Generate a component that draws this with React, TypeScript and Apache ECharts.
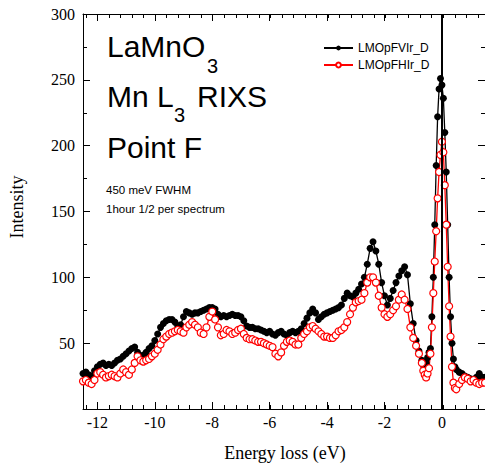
import { useEffect, useRef } from "react";
import * as echarts from "echarts";

// Energy loss grid (eV)
const energies = [
  -12.5, -12.4, -12.3, -12.2, -12.1, -12.0, -11.9, -11.8, -11.7, -11.6,
  -11.5, -11.4, -11.3, -11.2, -11.1, -11.0, -10.9, -10.8, -10.7, -10.6,
  -10.5, -10.4, -10.3, -10.2, -10.1, -10.0, -9.9, -9.8, -9.7, -9.6,
  -9.5, -9.4, -9.3, -9.2, -9.1, -9.0, -8.9, -8.8, -8.7, -8.6,
  -8.5, -8.4, -8.3, -8.2, -8.1, -8.0, -7.9, -7.8, -7.7, -7.6,
  -7.5, -7.4, -7.3, -7.2, -7.1, -7.0, -6.9, -6.8, -6.7, -6.6,
  -6.5, -6.4, -6.3, -6.2, -6.1, -6.0, -5.9, -5.8, -5.7, -5.6,
  -5.5, -5.4, -5.3, -5.2, -5.1, -5.0, -4.9, -4.8, -4.7, -4.6,
  -4.5, -4.4, -4.3, -4.2, -4.1, -4.0, -3.9, -3.8, -3.7, -3.6,
  -3.5, -3.4, -3.3, -3.2, -3.1, -3.0, -2.9, -2.8, -2.7, -2.6,
  -2.5, -2.4, -2.3, -2.2, -2.1, -2.0, -1.9, -1.8, -1.7, -1.6,
  -1.5, -1.4, -1.3, -1.2, -1.1, -1.0, -0.9, -0.8, -0.7,
  -0.65, -0.6, -0.55, -0.5, -0.45, -0.4, -0.35, -0.3, -0.25, -0.2, -0.15, -0.1,
  -0.05, 0, 0.05, 0.1, 0.15, 0.2, 0.25, 0.3, 0.35, 0.4, 0.45, 0.5,
  0.6, 0.7, 0.8, 0.9, 1.0, 1.1, 1.2, 1.3, 1.4, 1.5,
];

const seriesNames = ["LMOpFVIr_D", "LMOpFHIr_D"];

// LMOpFVIr_D (black, filled circles)
const intensityV = [
  27, 28, 26, 25, 29, 32, 34, 35, 33, 34,
  33, 35, 37, 38, 40, 42, 44, 46, 47, 43,
  40, 41, 43, 46, 48, 52, 57, 62, 65, 67,
  68, 68, 66, 63, 64, 70, 74, 73, 72, 73,
  73, 74, 75, 76, 77, 77, 76, 72, 70, 71,
  70, 71, 72, 71, 71, 70, 67, 63, 62, 62,
  61, 61, 60, 59, 58, 59, 57, 56, 58, 59,
  57, 56, 58, 59, 58, 59, 61, 65, 69, 73,
  76, 73, 68, 70, 72, 73, 74, 75, 76, 77,
  79, 84, 88, 86, 85, 88, 91, 95, 100, 110,
  122, 127, 120, 110, 96, 86, 79, 84, 90, 96,
  101, 105, 108, 102, 80, 65, 52, 44, 37,
  33, 32, 35, 39, 43, 46, 70, 100, 140, 185, 222, 243,
  251, 246, 236, 210, 180, 140, 100, 70, 50, 38, 32, 30,
  28, 27, 25, 24, 23, 22, 24, 27, 24, 24,
];

// LMOpFHIr_D (red, open circles)
const intensityH = [
  21, 22, 20, 19, 22, 27, 28, 26, 24, 25,
  26, 25, 24, 27, 30, 28, 26, 30, 35, 40,
  37, 36, 37, 38, 40, 42, 45, 49, 53, 55,
  57, 58, 59, 60, 59, 58, 62, 64, 66, 64,
  62, 58, 57, 62, 70, 74, 68, 62, 56, 57,
  60, 59, 57, 58, 60, 61, 57, 54, 53, 53,
  52, 51, 51, 50, 49, 48, 47, 42, 40, 43,
  48, 51, 52, 51, 49, 49, 54, 57, 59, 62,
  63, 61, 59, 57, 55, 55, 54, 54, 56, 59,
  60, 62, 66, 72, 77, 81, 82, 83, 88, 96,
  100, 100, 96, 86, 77, 72, 70, 72, 75, 78,
  83, 87, 83, 76, 62, 54, 48, 42, 35,
  29, 26, 24, 27, 31, 42, 62, 88, 112, 135, 160, 180,
  193, 203, 195, 170, 140, 108, 78, 55, 32, 20, 16, 15,
  19, 22, 24, 23, 21, 22, 20, 19, 20, 20,
];

const X_MIN = -12.5;
const X_MAX = 1.5;
const Y_MIN = 0;
const Y_MAX = 300;
const Y_STEP = 50;
const MINOR_MIN = -12.4;
const MINOR_MAX = 1.2;
const MINOR_STEP = 0.4;

export default function App() {
  const ref = useRef<HTMLDivElement>(null);
  useEffect(() => {
    const chart = echarts.init(ref.current!, null, { renderer: "svg" });
    const sans = "'Liberation Sans', Arial, sans-serif";
    const serif = "'Liberation Serif', 'Times New Roman', serif";
    const W = 485;
    const left = 83;
    const right = -1.5;
    const top = 14;
    const bottom = 57;
    const pxPerEV = (W - left - right) / (X_MAX - X_MIN);
    const left2 = left + (MINOR_MIN - X_MIN) * pxPerEV;
    const right2 = right + (X_MAX - MINOR_MAX) * pxPerEV;

    const black = "#000";
    const red = "#ff0000";

    const majorX = (pos: "top" | "bottom", labels: boolean) => ({
      type: "value",
      gridIndex: 0,
      position: pos,
      min: X_MIN,
      max: X_MAX,
      splitNumber: 7,
      axisLine: { show: true, onZero: false, lineStyle: { color: black, width: 1 } },
      axisTick: { show: true, inside: true, length: 7, lineStyle: { color: black } },
      axisLabel: {
        show: labels,
        showMinLabel: false,
        showMaxLabel: false,
        margin: 5,
        color: black,
        fontSize: 16,
        fontFamily: serif,
      },
      splitLine: { show: false },
    });
    const minorX = (pos: "top" | "bottom") => ({
      type: "value",
      gridIndex: 1,
      position: pos,
      min: MINOR_MIN,
      max: MINOR_MAX,
      interval: MINOR_STEP,
      axisLine: { show: false, onZero: false },
      axisTick: { show: true, inside: true, length: 4, lineStyle: { color: black } },
      axisLabel: { show: false },
      splitLine: { show: false },
    });
    const yAx = (pos: "left" | "right", labels: boolean) => ({
      type: "value",
      gridIndex: 0,
      position: pos,
      min: Y_MIN,
      max: Y_MAX,
      interval: Y_STEP,
      axisLine: { show: true, onZero: false, lineStyle: { color: black, width: 1 } },
      axisTick: { show: true, inside: true, length: 7, lineStyle: { color: black } },
      minorTick: { show: true, splitNumber: 2, length: 4, lineStyle: { color: black } },
      axisLabel: {
        show: labels,
        showMinLabel: false,
        margin: 8,
        color: black,
        fontSize: 16,
        fontFamily: serif,
      },
      splitLine: { show: false },
    });

    const option: any = {
      animation: false,
      backgroundColor: "#fff",
      grid: [
        { left, right, top, bottom, containLabel: false },
        { left: left2, right: right2, top, bottom, containLabel: false },
      ],
      xAxis: [majorX("bottom", true), majorX("top", false), minorX("bottom"), minorX("top")],
      yAxis: [
        yAx("left", true),
        yAx("right", false),
        { type: "value", gridIndex: 1, min: Y_MIN, max: Y_MAX, show: false },
      ],
      legend: {
        orient: "vertical",
        left: 318,
        top: 37,
        padding: 5,
        itemWidth: 29,
        itemHeight: 6,
        itemGap: 5,
        textStyle: { fontSize: 12, fontFamily: sans, color: black },
        data: seriesNames,
      },
      series: [
        {
          name: seriesNames[0],
          type: "line",
          xAxisIndex: 0,
          yAxisIndex: 0,
          data: energies.map((e, i) => [e, intensityV[i]]),
          symbol: "circle",
          symbolSize: 7,
          showAllSymbol: true,
          itemStyle: { color: black },
          lineStyle: { color: black, width: 1.3 },
          markLine: {
            silent: true,
            symbol: ["none", "none"],
            label: { show: false },
            lineStyle: { color: black, width: 2, type: "solid" },
            data: [{ xAxis: 0 }],
          },
        },
        {
          name: seriesNames[1],
          type: "line",
          xAxisIndex: 0,
          yAxisIndex: 0,
          data: energies.map((e, i) => [e, intensityH[i]]),
          symbol: "circle",
          symbolSize: 7,
          showAllSymbol: true,
          itemStyle: { color: "#fff", borderColor: red, borderWidth: 1.2 },
          lineStyle: { color: red, width: 1.3 },
        },
      ],
      graphic: [
        { type: "text", x: 107, y: 46, style: { text: "LaMnO", fontSize: 30, fontFamily: sans, fill: black, verticalAlign: "middle" } },
        { type: "text", x: 207, y: 66, style: { text: "3", fontSize: 20, fontFamily: sans, fill: black, verticalAlign: "middle" } },
        { type: "text", x: 107, y: 96, style: { text: "Mn L", fontSize: 30, fontFamily: sans, fill: black, verticalAlign: "middle" } },
        { type: "text", x: 174, y: 115, style: { text: "3", fontSize: 20, fontFamily: sans, fill: black, verticalAlign: "middle" } },
        { type: "text", x: 197, y: 96, style: { text: "RIXS", fontSize: 30, fontFamily: sans, fill: black, verticalAlign: "middle" } },
        { type: "text", x: 107, y: 147, style: { text: "Point F", fontSize: 30, fontFamily: sans, fill: black, verticalAlign: "middle" } },
        { type: "text", x: 106, y: 190, style: { text: "450 meV FWHM", fontSize: 11.5, fontFamily: sans, fill: black, verticalAlign: "middle" } },
        { type: "text", x: 106, y: 209, style: { text: "1hour 1/2 per spectrum", fontSize: 11.5, fontFamily: sans, fill: black, verticalAlign: "middle" } },
        { type: "text", x: 17, y: 207, rotation: Math.PI / 2, style: { text: "Intensity", fontSize: 18, fontFamily: serif, fill: black, align: "center", verticalAlign: "middle" } },
        { type: "text", x: 285, y: 453, style: { text: "Energy loss (eV)", fontSize: 18, fontFamily: serif, fill: black, align: "center", verticalAlign: "middle" } },
      ],
    };
    chart.setOption(option);
    return () => chart.dispose();
  }, []);
  return (
    <div
      ref={ref}
      style={{ position: "fixed", left: 0, top: 0, width: 485, height: 466, background: "#fff" }}
    />
  );
}
